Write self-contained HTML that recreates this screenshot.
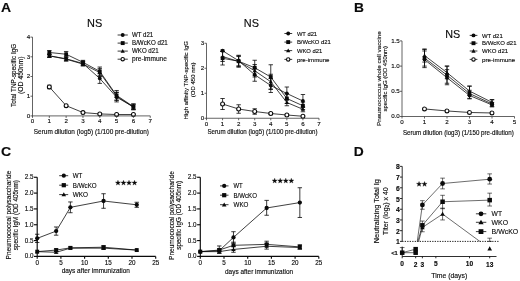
<!DOCTYPE html>
<html><head><meta charset="utf-8"><title>Figure</title>
<style>html,body{margin:0;padding:0;background:#fff;}body{width:520px;height:281px;overflow:hidden;font-family:"Liberation Sans",sans-serif;}svg{display:block;font-family:"Liberation Sans",sans-serif;}</style>
</head><body>
<svg width="520" height="281" viewBox="0 0 520 281" fill="#0a0a0a" stroke="#0a0a0a" style="filter:blur(0.25px)">
<rect x="0" y="0" width="520" height="281" fill="#fff" stroke="none"/>
<g stroke="none">
<text x="1.00" y="11.90" font-size="12.6" text-anchor="start" stroke="#0a0a0a" stroke-width="0.13" font-weight="bold" textLength="10.10" lengthAdjust="spacingAndGlyphs">A</text>
<text x="354.00" y="11.90" font-size="12.6" text-anchor="start" stroke="#0a0a0a" stroke-width="0.13" font-weight="bold" textLength="10.00" lengthAdjust="spacingAndGlyphs">B</text>
<text x="0.90" y="156.40" font-size="12.6" text-anchor="start" stroke="#0a0a0a" stroke-width="0.13" font-weight="bold" textLength="10.20" lengthAdjust="spacingAndGlyphs">C</text>
<text x="353.70" y="156.40" font-size="12.6" text-anchor="start" stroke="#0a0a0a" stroke-width="0.13" font-weight="bold" textLength="10.00" lengthAdjust="spacingAndGlyphs">D</text>
<text x="87.00" y="27.10" font-size="10.6" text-anchor="start" stroke="#0a0a0a" stroke-width="0.13" textLength="15.20" lengthAdjust="spacingAndGlyphs">NS</text>
<text x="243.80" y="27.00" font-size="10.6" text-anchor="start" stroke="#0a0a0a" stroke-width="0.13" textLength="15.10" lengthAdjust="spacingAndGlyphs">NS</text>
<text x="445.20" y="38.20" font-size="10.6" text-anchor="start" stroke="#0a0a0a" stroke-width="0.13" textLength="15.00" lengthAdjust="spacingAndGlyphs">NS</text>
</g>
<g id="A1">
<g stroke="none">
</g>
<path d="M49.32 86.94 L66.14 105.66 L82.96 112.55 L99.78 113.93 L116.60 114.52 L133.42 114.52" fill="none" stroke-width="0.78"/>
<line x1="49.32" y1="85.17" x2="49.32" y2="88.71" stroke-width="0.8" />
<line x1="47.12" y1="85.17" x2="51.52" y2="85.17" stroke-width="0.8" />
<line x1="47.12" y1="88.71" x2="51.52" y2="88.71" stroke-width="0.8" />
<circle cx="49.32" cy="86.94" r="1.95" fill="#fff" stroke="#0a0a0a" stroke-width="1.1"/>
<circle cx="66.14" cy="105.66" r="1.95" fill="#fff" stroke="#0a0a0a" stroke-width="1.1"/>
<circle cx="82.96" cy="112.55" r="1.95" fill="#fff" stroke="#0a0a0a" stroke-width="1.1"/>
<circle cx="99.78" cy="113.93" r="1.95" fill="#fff" stroke="#0a0a0a" stroke-width="1.1"/>
<circle cx="116.60" cy="114.52" r="1.95" fill="#fff" stroke="#0a0a0a" stroke-width="1.1"/>
<circle cx="133.42" cy="114.52" r="1.95" fill="#fff" stroke="#0a0a0a" stroke-width="1.1"/>
<path d="M49.32 55.82 L66.14 58.77 L82.96 63.50 L99.78 78.47 L116.60 97.19 L133.42 106.84" fill="none" stroke-width="0.78"/>
<line x1="49.32" y1="54.24" x2="49.32" y2="57.39" stroke-width="0.8" />
<line x1="47.12" y1="54.24" x2="51.52" y2="54.24" stroke-width="0.8" />
<line x1="47.12" y1="57.39" x2="51.52" y2="57.39" stroke-width="0.8" />
<line x1="66.14" y1="56.80" x2="66.14" y2="60.74" stroke-width="0.8" />
<line x1="63.94" y1="56.80" x2="68.34" y2="56.80" stroke-width="0.8" />
<line x1="63.94" y1="60.74" x2="68.34" y2="60.74" stroke-width="0.8" />
<line x1="82.96" y1="61.53" x2="82.96" y2="65.47" stroke-width="0.8" />
<line x1="80.76" y1="61.53" x2="85.16" y2="61.53" stroke-width="0.8" />
<line x1="80.76" y1="65.47" x2="85.16" y2="65.47" stroke-width="0.8" />
<line x1="99.78" y1="73.55" x2="99.78" y2="83.40" stroke-width="0.8" />
<line x1="97.58" y1="73.55" x2="101.98" y2="73.55" stroke-width="0.8" />
<line x1="97.58" y1="83.40" x2="101.98" y2="83.40" stroke-width="0.8" />
<line x1="116.60" y1="92.46" x2="116.60" y2="101.91" stroke-width="0.8" />
<line x1="114.40" y1="92.46" x2="118.80" y2="92.46" stroke-width="0.8" />
<line x1="114.40" y1="101.91" x2="118.80" y2="101.91" stroke-width="0.8" />
<line x1="133.42" y1="103.88" x2="133.42" y2="109.79" stroke-width="0.8" />
<line x1="131.22" y1="103.88" x2="135.62" y2="103.88" stroke-width="0.8" />
<line x1="131.22" y1="109.79" x2="135.62" y2="109.79" stroke-width="0.8" />
<circle cx="49.32" cy="55.82" r="1.90" fill="#0a0a0a" stroke="none"/>
<circle cx="66.14" cy="58.77" r="1.90" fill="#0a0a0a" stroke="none"/>
<circle cx="82.96" cy="63.50" r="1.90" fill="#0a0a0a" stroke="none"/>
<circle cx="99.78" cy="78.47" r="1.90" fill="#0a0a0a" stroke="none"/>
<circle cx="116.60" cy="97.19" r="1.90" fill="#0a0a0a" stroke="none"/>
<circle cx="133.42" cy="106.84" r="1.90" fill="#0a0a0a" stroke="none"/>
<path d="M49.32 55.82 L66.14 59.16 L82.96 64.09 L99.78 72.56 L116.60 96.20 L133.42 107.23" fill="none" stroke-width="0.78"/>
<line x1="49.32" y1="54.24" x2="49.32" y2="57.39" stroke-width="0.8" />
<line x1="47.12" y1="54.24" x2="51.52" y2="54.24" stroke-width="0.8" />
<line x1="47.12" y1="57.39" x2="51.52" y2="57.39" stroke-width="0.8" />
<line x1="66.14" y1="57.19" x2="66.14" y2="61.13" stroke-width="0.8" />
<line x1="63.94" y1="57.19" x2="68.34" y2="57.19" stroke-width="0.8" />
<line x1="63.94" y1="61.13" x2="68.34" y2="61.13" stroke-width="0.8" />
<line x1="82.96" y1="62.12" x2="82.96" y2="66.06" stroke-width="0.8" />
<line x1="80.76" y1="62.12" x2="85.16" y2="62.12" stroke-width="0.8" />
<line x1="80.76" y1="66.06" x2="85.16" y2="66.06" stroke-width="0.8" />
<line x1="99.78" y1="68.62" x2="99.78" y2="76.50" stroke-width="0.8" />
<line x1="97.58" y1="68.62" x2="101.98" y2="68.62" stroke-width="0.8" />
<line x1="97.58" y1="76.50" x2="101.98" y2="76.50" stroke-width="0.8" />
<line x1="116.60" y1="92.26" x2="116.60" y2="100.14" stroke-width="0.8" />
<line x1="114.40" y1="92.26" x2="118.80" y2="92.26" stroke-width="0.8" />
<line x1="114.40" y1="100.14" x2="118.80" y2="100.14" stroke-width="0.8" />
<line x1="133.42" y1="104.87" x2="133.42" y2="109.60" stroke-width="0.8" />
<line x1="131.22" y1="104.87" x2="135.62" y2="104.87" stroke-width="0.8" />
<line x1="131.22" y1="109.60" x2="135.62" y2="109.60" stroke-width="0.8" />
<path d="M49.32 53.73 L51.41 57.41 L47.23 57.41 Z" fill="#0a0a0a" stroke="none"/>
<path d="M66.14 57.07 L68.23 60.76 L64.05 60.76 Z" fill="#0a0a0a" stroke="none"/>
<path d="M82.96 62.00 L85.05 65.69 L80.87 65.69 Z" fill="#0a0a0a" stroke="none"/>
<path d="M99.78 70.47 L101.87 74.16 L97.69 74.16 Z" fill="#0a0a0a" stroke="none"/>
<path d="M116.60 94.11 L118.69 97.80 L114.51 97.80 Z" fill="#0a0a0a" stroke="none"/>
<path d="M133.42 105.14 L135.51 108.83 L131.33 108.83 Z" fill="#0a0a0a" stroke="none"/>
<path d="M49.32 52.47 L66.14 54.24 L82.96 62.32 L99.78 71.38 L116.60 95.41 L133.42 106.64" fill="none" stroke-width="0.78"/>
<line x1="49.32" y1="50.50" x2="49.32" y2="54.44" stroke-width="0.8" />
<line x1="47.12" y1="50.50" x2="51.52" y2="50.50" stroke-width="0.8" />
<line x1="47.12" y1="54.44" x2="51.52" y2="54.44" stroke-width="0.8" />
<line x1="66.14" y1="51.48" x2="66.14" y2="57.00" stroke-width="0.8" />
<line x1="63.94" y1="51.48" x2="68.34" y2="51.48" stroke-width="0.8" />
<line x1="63.94" y1="57.00" x2="68.34" y2="57.00" stroke-width="0.8" />
<line x1="82.96" y1="60.35" x2="82.96" y2="64.29" stroke-width="0.8" />
<line x1="80.76" y1="60.35" x2="85.16" y2="60.35" stroke-width="0.8" />
<line x1="80.76" y1="64.29" x2="85.16" y2="64.29" stroke-width="0.8" />
<line x1="99.78" y1="67.04" x2="99.78" y2="75.71" stroke-width="0.8" />
<line x1="97.58" y1="67.04" x2="101.98" y2="67.04" stroke-width="0.8" />
<line x1="97.58" y1="75.71" x2="101.98" y2="75.71" stroke-width="0.8" />
<line x1="116.60" y1="90.49" x2="116.60" y2="100.34" stroke-width="0.8" />
<line x1="114.40" y1="90.49" x2="118.80" y2="90.49" stroke-width="0.8" />
<line x1="114.40" y1="100.34" x2="118.80" y2="100.34" stroke-width="0.8" />
<line x1="133.42" y1="104.08" x2="133.42" y2="109.20" stroke-width="0.8" />
<line x1="131.22" y1="104.08" x2="135.62" y2="104.08" stroke-width="0.8" />
<line x1="131.22" y1="109.20" x2="135.62" y2="109.20" stroke-width="0.8" />
<rect x="47.42" y="50.57" width="3.80" height="3.80" fill="#0a0a0a" stroke="none"/>
<rect x="64.24" y="52.34" width="3.80" height="3.80" fill="#0a0a0a" stroke="none"/>
<rect x="81.06" y="60.42" width="3.80" height="3.80" fill="#0a0a0a" stroke="none"/>
<rect x="97.88" y="69.48" width="3.80" height="3.80" fill="#0a0a0a" stroke="none"/>
<rect x="114.70" y="93.51" width="3.80" height="3.80" fill="#0a0a0a" stroke="none"/>
<rect x="131.52" y="104.74" width="3.80" height="3.80" fill="#0a0a0a" stroke="none"/>
</g>
<g id="A1ax">
<line x1="32.50" y1="37.10" x2="32.50" y2="116.30" stroke-width="0.8"  stroke="#3c3c3c"/>
<line x1="32.50" y1="115.90" x2="150.24" y2="115.90" stroke-width="0.8"  stroke="#3c3c3c"/>
<line x1="32.50" y1="115.90" x2="32.50" y2="117.90" stroke-width="0.8"  stroke="#3c3c3c"/>
<text x="32.50" y="123.45" font-size="6.2" text-anchor="middle" stroke="#0a0a0a" stroke-width="0.13">0</text>
<line x1="49.32" y1="115.90" x2="49.32" y2="117.90" stroke-width="0.8"  stroke="#3c3c3c"/>
<text x="49.32" y="123.45" font-size="6.2" text-anchor="middle" stroke="#0a0a0a" stroke-width="0.13">1</text>
<line x1="66.14" y1="115.90" x2="66.14" y2="117.90" stroke-width="0.8"  stroke="#3c3c3c"/>
<text x="66.14" y="123.45" font-size="6.2" text-anchor="middle" stroke="#0a0a0a" stroke-width="0.13">2</text>
<line x1="82.96" y1="115.90" x2="82.96" y2="117.90" stroke-width="0.8"  stroke="#3c3c3c"/>
<text x="82.96" y="123.45" font-size="6.2" text-anchor="middle" stroke="#0a0a0a" stroke-width="0.13">3</text>
<line x1="99.78" y1="115.90" x2="99.78" y2="117.90" stroke-width="0.8"  stroke="#3c3c3c"/>
<text x="99.78" y="123.45" font-size="6.2" text-anchor="middle" stroke="#0a0a0a" stroke-width="0.13">4</text>
<line x1="116.60" y1="115.90" x2="116.60" y2="117.90" stroke-width="0.8"  stroke="#3c3c3c"/>
<text x="116.60" y="123.45" font-size="6.2" text-anchor="middle" stroke="#0a0a0a" stroke-width="0.13">5</text>
<line x1="133.42" y1="115.90" x2="133.42" y2="117.90" stroke-width="0.8"  stroke="#3c3c3c"/>
<text x="133.42" y="123.45" font-size="6.2" text-anchor="middle" stroke="#0a0a0a" stroke-width="0.13">6</text>
<line x1="150.24" y1="115.90" x2="150.24" y2="117.90" stroke-width="0.8"  stroke="#3c3c3c"/>
<text x="150.24" y="123.45" font-size="6.2" text-anchor="middle" stroke="#0a0a0a" stroke-width="0.13">7</text>
<line x1="30.50" y1="115.90" x2="32.50" y2="115.90" stroke-width="0.8"  stroke="#3c3c3c"/>
<text x="30.30" y="117.88" font-size="6.2" text-anchor="end" stroke="#0a0a0a" stroke-width="0.13">0</text>
<line x1="30.50" y1="96.20" x2="32.50" y2="96.20" stroke-width="0.8"  stroke="#3c3c3c"/>
<text x="30.30" y="98.18" font-size="6.2" text-anchor="end" stroke="#0a0a0a" stroke-width="0.13">1</text>
<line x1="30.50" y1="76.50" x2="32.50" y2="76.50" stroke-width="0.8"  stroke="#3c3c3c"/>
<text x="30.30" y="78.48" font-size="6.2" text-anchor="end" stroke="#0a0a0a" stroke-width="0.13">2</text>
<line x1="30.50" y1="56.80" x2="32.50" y2="56.80" stroke-width="0.8"  stroke="#3c3c3c"/>
<text x="30.30" y="58.78" font-size="6.2" text-anchor="end" stroke="#0a0a0a" stroke-width="0.13">3</text>
<line x1="30.50" y1="37.10" x2="32.50" y2="37.10" stroke-width="0.8"  stroke="#3c3c3c"/>
<text x="30.30" y="39.08" font-size="6.2" text-anchor="end" stroke="#0a0a0a" stroke-width="0.13">4</text>
</g>
<g stroke="none">
<text x="33.80" y="134.00" font-size="6.6" text-anchor="start" stroke="#0a0a0a" stroke-width="0.13" textLength="115.20" lengthAdjust="spacingAndGlyphs">Serum dilution (log5) (1/100 pre-dilution)</text>
<text x="16.40" y="107.00" font-size="6.3" text-anchor="start" stroke="#0a0a0a" stroke-width="0.13" textLength="63.20" lengthAdjust="spacingAndGlyphs" transform="rotate(-90 16.40 107.00)">Total TNP-specific IgG</text>
<text x="23.10" y="94.00" font-size="6.3" text-anchor="start" stroke="#0a0a0a" stroke-width="0.13" textLength="37.60" lengthAdjust="spacingAndGlyphs" transform="rotate(-90 23.10 94.00)">(OD 450nm)</text>
</g>
<line x1="117.60" y1="35.00" x2="127.80" y2="35.00" stroke-width="0.8" />
<circle cx="122.70" cy="35.00" r="1.95" fill="#0a0a0a" stroke="none"/>
<text x="132.00" y="37.27" font-size="6.3" text-anchor="start" stroke="#0a0a0a" stroke-width="0.13" textLength="21.20" lengthAdjust="spacingAndGlyphs">WT d21</text>
<line x1="117.60" y1="43.10" x2="127.80" y2="43.10" stroke-width="0.8" />
<rect x="120.75" y="41.15" width="3.90" height="3.90" fill="#0a0a0a" stroke="none"/>
<text x="132.00" y="45.37" font-size="6.3" text-anchor="start" stroke="#0a0a0a" stroke-width="0.13" textLength="35.80" lengthAdjust="spacingAndGlyphs">B/WcKO d21</text>
<line x1="117.60" y1="51.10" x2="127.80" y2="51.10" stroke-width="0.8" />
<path d="M122.70 48.95 L124.84 52.74 L120.56 52.74 Z" fill="#0a0a0a" stroke="none"/>
<text x="132.00" y="53.37" font-size="6.3" text-anchor="start" stroke="#0a0a0a" stroke-width="0.13" textLength="26.60" lengthAdjust="spacingAndGlyphs">WKO d21</text>
<line x1="117.60" y1="59.20" x2="127.80" y2="59.20" stroke-width="0.8" />
<circle cx="122.70" cy="59.20" r="1.70" fill="#fff" stroke="#0a0a0a" stroke-width="1.1"/>
<text x="132.00" y="61.47" font-size="6.3" text-anchor="start" stroke="#0a0a0a" stroke-width="0.13" textLength="34.90" lengthAdjust="spacingAndGlyphs">pre-immune</text>
<path d="M222.57 104.00 L238.64 109.00 L254.71 111.50 L270.78 113.50 L286.85 115.00 L302.92 116.25" fill="none" stroke-width="0.78"/>
<line x1="222.57" y1="98.50" x2="222.57" y2="109.50" stroke-width="0.8" />
<line x1="220.37" y1="98.50" x2="224.77" y2="98.50" stroke-width="0.8" />
<line x1="220.37" y1="109.50" x2="224.77" y2="109.50" stroke-width="0.8" />
<line x1="238.64" y1="104.75" x2="238.64" y2="113.25" stroke-width="0.8" />
<line x1="236.44" y1="104.75" x2="240.84" y2="104.75" stroke-width="0.8" />
<line x1="236.44" y1="113.25" x2="240.84" y2="113.25" stroke-width="0.8" />
<line x1="254.71" y1="108.75" x2="254.71" y2="114.25" stroke-width="0.8" />
<line x1="252.51" y1="108.75" x2="256.91" y2="108.75" stroke-width="0.8" />
<line x1="252.51" y1="114.25" x2="256.91" y2="114.25" stroke-width="0.8" />
<line x1="270.78" y1="112.50" x2="270.78" y2="114.50" stroke-width="0.8" />
<line x1="268.58" y1="112.50" x2="272.98" y2="112.50" stroke-width="0.8" />
<line x1="268.58" y1="114.50" x2="272.98" y2="114.50" stroke-width="0.8" />
<circle cx="222.57" cy="104.00" r="1.95" fill="#fff" stroke="#0a0a0a" stroke-width="1.1"/>
<circle cx="238.64" cy="109.00" r="1.95" fill="#fff" stroke="#0a0a0a" stroke-width="1.1"/>
<circle cx="254.71" cy="111.50" r="1.95" fill="#fff" stroke="#0a0a0a" stroke-width="1.1"/>
<circle cx="270.78" cy="113.50" r="1.95" fill="#fff" stroke="#0a0a0a" stroke-width="1.1"/>
<circle cx="286.85" cy="115.00" r="1.95" fill="#fff" stroke="#0a0a0a" stroke-width="1.1"/>
<circle cx="302.92" cy="116.25" r="1.95" fill="#fff" stroke="#0a0a0a" stroke-width="1.1"/>
<path d="M222.57 56.50 L238.64 61.50 L254.71 70.75 L270.78 81.75 L286.85 102.50 L302.92 109.25" fill="none" stroke-width="0.78"/>
<line x1="222.57" y1="51.50" x2="222.57" y2="61.50" stroke-width="0.8" />
<line x1="220.37" y1="51.50" x2="224.77" y2="51.50" stroke-width="0.8" />
<line x1="220.37" y1="61.50" x2="224.77" y2="61.50" stroke-width="0.8" />
<line x1="238.64" y1="56.50" x2="238.64" y2="66.50" stroke-width="0.8" />
<line x1="236.44" y1="56.50" x2="240.84" y2="56.50" stroke-width="0.8" />
<line x1="236.44" y1="66.50" x2="240.84" y2="66.50" stroke-width="0.8" />
<line x1="254.71" y1="64.50" x2="254.71" y2="77.00" stroke-width="0.8" />
<line x1="252.51" y1="64.50" x2="256.91" y2="64.50" stroke-width="0.8" />
<line x1="252.51" y1="77.00" x2="256.91" y2="77.00" stroke-width="0.8" />
<line x1="270.78" y1="74.25" x2="270.78" y2="89.25" stroke-width="0.8" />
<line x1="268.58" y1="74.25" x2="272.98" y2="74.25" stroke-width="0.8" />
<line x1="268.58" y1="89.25" x2="272.98" y2="89.25" stroke-width="0.8" />
<line x1="286.85" y1="99.25" x2="286.85" y2="105.75" stroke-width="0.8" />
<line x1="284.65" y1="99.25" x2="289.05" y2="99.25" stroke-width="0.8" />
<line x1="284.65" y1="105.75" x2="289.05" y2="105.75" stroke-width="0.8" />
<line x1="302.92" y1="106.75" x2="302.92" y2="111.75" stroke-width="0.8" />
<line x1="300.72" y1="106.75" x2="305.12" y2="106.75" stroke-width="0.8" />
<line x1="300.72" y1="111.75" x2="305.12" y2="111.75" stroke-width="0.8" />
<path d="M222.57 54.41 L224.66 58.10 L220.48 58.10 Z" fill="#0a0a0a" stroke="none"/>
<path d="M238.64 59.41 L240.73 63.10 L236.55 63.10 Z" fill="#0a0a0a" stroke="none"/>
<path d="M254.71 68.66 L256.80 72.35 L252.62 72.35 Z" fill="#0a0a0a" stroke="none"/>
<path d="M270.78 79.66 L272.87 83.35 L268.69 83.35 Z" fill="#0a0a0a" stroke="none"/>
<path d="M286.85 100.41 L288.94 104.10 L284.76 104.10 Z" fill="#0a0a0a" stroke="none"/>
<path d="M302.92 107.16 L305.01 110.85 L300.83 110.85 Z" fill="#0a0a0a" stroke="none"/>
<path d="M222.57 58.25 L238.64 61.25 L254.71 67.75 L270.78 77.00 L286.85 98.50 L302.92 105.75" fill="none" stroke-width="0.78"/>
<line x1="222.57" y1="51.50" x2="222.57" y2="65.00" stroke-width="0.8" />
<line x1="220.37" y1="51.50" x2="224.77" y2="51.50" stroke-width="0.8" />
<line x1="220.37" y1="65.00" x2="224.77" y2="65.00" stroke-width="0.8" />
<line x1="238.64" y1="55.25" x2="238.64" y2="67.25" stroke-width="0.8" />
<line x1="236.44" y1="55.25" x2="240.84" y2="55.25" stroke-width="0.8" />
<line x1="236.44" y1="67.25" x2="240.84" y2="67.25" stroke-width="0.8" />
<line x1="254.71" y1="60.25" x2="254.71" y2="75.25" stroke-width="0.8" />
<line x1="252.51" y1="60.25" x2="256.91" y2="60.25" stroke-width="0.8" />
<line x1="252.51" y1="75.25" x2="256.91" y2="75.25" stroke-width="0.8" />
<line x1="270.78" y1="64.75" x2="270.78" y2="89.25" stroke-width="0.8" />
<line x1="268.58" y1="64.75" x2="272.98" y2="64.75" stroke-width="0.8" />
<line x1="268.58" y1="89.25" x2="272.98" y2="89.25" stroke-width="0.8" />
<line x1="286.85" y1="93.50" x2="286.85" y2="103.50" stroke-width="0.8" />
<line x1="284.65" y1="93.50" x2="289.05" y2="93.50" stroke-width="0.8" />
<line x1="284.65" y1="103.50" x2="289.05" y2="103.50" stroke-width="0.8" />
<line x1="302.92" y1="102.00" x2="302.92" y2="109.50" stroke-width="0.8" />
<line x1="300.72" y1="102.00" x2="305.12" y2="102.00" stroke-width="0.8" />
<line x1="300.72" y1="109.50" x2="305.12" y2="109.50" stroke-width="0.8" />
<rect x="220.67" y="56.35" width="3.80" height="3.80" fill="#0a0a0a" stroke="none"/>
<rect x="236.74" y="59.35" width="3.80" height="3.80" fill="#0a0a0a" stroke="none"/>
<rect x="252.81" y="65.85" width="3.80" height="3.80" fill="#0a0a0a" stroke="none"/>
<rect x="268.88" y="75.10" width="3.80" height="3.80" fill="#0a0a0a" stroke="none"/>
<rect x="284.95" y="96.60" width="3.80" height="3.80" fill="#0a0a0a" stroke="none"/>
<rect x="301.02" y="103.85" width="3.80" height="3.80" fill="#0a0a0a" stroke="none"/>
<path d="M222.57 50.75 L238.64 60.75 L254.71 74.75 L270.78 85.50 L286.85 93.50 L302.92 101.00" fill="none" stroke-width="0.78"/>
<line x1="222.57" y1="50.00" x2="222.57" y2="51.50" stroke-width="0.8" />
<line x1="220.37" y1="50.00" x2="224.77" y2="50.00" stroke-width="0.8" />
<line x1="220.37" y1="51.50" x2="224.77" y2="51.50" stroke-width="0.8" />
<line x1="238.64" y1="55.75" x2="238.64" y2="65.75" stroke-width="0.8" />
<line x1="236.44" y1="55.75" x2="240.84" y2="55.75" stroke-width="0.8" />
<line x1="236.44" y1="65.75" x2="240.84" y2="65.75" stroke-width="0.8" />
<line x1="254.71" y1="68.25" x2="254.71" y2="81.25" stroke-width="0.8" />
<line x1="252.51" y1="68.25" x2="256.91" y2="68.25" stroke-width="0.8" />
<line x1="252.51" y1="81.25" x2="256.91" y2="81.25" stroke-width="0.8" />
<line x1="270.78" y1="78.50" x2="270.78" y2="92.50" stroke-width="0.8" />
<line x1="268.58" y1="78.50" x2="272.98" y2="78.50" stroke-width="0.8" />
<line x1="268.58" y1="92.50" x2="272.98" y2="92.50" stroke-width="0.8" />
<line x1="286.85" y1="87.00" x2="286.85" y2="100.00" stroke-width="0.8" />
<line x1="284.65" y1="87.00" x2="289.05" y2="87.00" stroke-width="0.8" />
<line x1="284.65" y1="100.00" x2="289.05" y2="100.00" stroke-width="0.8" />
<line x1="302.92" y1="94.50" x2="302.92" y2="107.50" stroke-width="0.8" />
<line x1="300.72" y1="94.50" x2="305.12" y2="94.50" stroke-width="0.8" />
<line x1="300.72" y1="107.50" x2="305.12" y2="107.50" stroke-width="0.8" />
<circle cx="222.57" cy="50.75" r="1.90" fill="#0a0a0a" stroke="none"/>
<circle cx="238.64" cy="60.75" r="1.90" fill="#0a0a0a" stroke="none"/>
<circle cx="254.71" cy="74.75" r="1.90" fill="#0a0a0a" stroke="none"/>
<circle cx="270.78" cy="85.50" r="1.90" fill="#0a0a0a" stroke="none"/>
<circle cx="286.85" cy="93.50" r="1.90" fill="#0a0a0a" stroke="none"/>
<circle cx="302.92" cy="101.00" r="1.90" fill="#0a0a0a" stroke="none"/>
<line x1="206.50" y1="43.25" x2="206.50" y2="118.65" stroke-width="0.8"  stroke="#3c3c3c"/>
<line x1="206.50" y1="118.25" x2="318.99" y2="118.25" stroke-width="0.8"  stroke="#3c3c3c"/>
<line x1="206.50" y1="118.25" x2="206.50" y2="120.25" stroke-width="0.8"  stroke="#3c3c3c"/>
<text x="206.50" y="125.80" font-size="6.2" text-anchor="middle" stroke="#0a0a0a" stroke-width="0.13">0</text>
<line x1="222.57" y1="118.25" x2="222.57" y2="120.25" stroke-width="0.8"  stroke="#3c3c3c"/>
<text x="222.57" y="125.80" font-size="6.2" text-anchor="middle" stroke="#0a0a0a" stroke-width="0.13">1</text>
<line x1="238.64" y1="118.25" x2="238.64" y2="120.25" stroke-width="0.8"  stroke="#3c3c3c"/>
<text x="238.64" y="125.80" font-size="6.2" text-anchor="middle" stroke="#0a0a0a" stroke-width="0.13">2</text>
<line x1="254.71" y1="118.25" x2="254.71" y2="120.25" stroke-width="0.8"  stroke="#3c3c3c"/>
<text x="254.71" y="125.80" font-size="6.2" text-anchor="middle" stroke="#0a0a0a" stroke-width="0.13">3</text>
<line x1="270.78" y1="118.25" x2="270.78" y2="120.25" stroke-width="0.8"  stroke="#3c3c3c"/>
<text x="270.78" y="125.80" font-size="6.2" text-anchor="middle" stroke="#0a0a0a" stroke-width="0.13">4</text>
<line x1="286.85" y1="118.25" x2="286.85" y2="120.25" stroke-width="0.8"  stroke="#3c3c3c"/>
<text x="286.85" y="125.80" font-size="6.2" text-anchor="middle" stroke="#0a0a0a" stroke-width="0.13">5</text>
<line x1="302.92" y1="118.25" x2="302.92" y2="120.25" stroke-width="0.8"  stroke="#3c3c3c"/>
<text x="302.92" y="125.80" font-size="6.2" text-anchor="middle" stroke="#0a0a0a" stroke-width="0.13">6</text>
<line x1="318.99" y1="118.25" x2="318.99" y2="120.25" stroke-width="0.8"  stroke="#3c3c3c"/>
<text x="318.99" y="125.80" font-size="6.2" text-anchor="middle" stroke="#0a0a0a" stroke-width="0.13">7</text>
<line x1="204.50" y1="118.25" x2="206.50" y2="118.25" stroke-width="0.8"  stroke="#3c3c3c"/>
<text x="204.30" y="120.23" font-size="6.2" text-anchor="end" stroke="#0a0a0a" stroke-width="0.13">0</text>
<line x1="204.50" y1="93.25" x2="206.50" y2="93.25" stroke-width="0.8"  stroke="#3c3c3c"/>
<text x="204.30" y="95.23" font-size="6.2" text-anchor="end" stroke="#0a0a0a" stroke-width="0.13">1</text>
<line x1="204.50" y1="68.25" x2="206.50" y2="68.25" stroke-width="0.8"  stroke="#3c3c3c"/>
<text x="204.30" y="70.23" font-size="6.2" text-anchor="end" stroke="#0a0a0a" stroke-width="0.13">2</text>
<line x1="204.50" y1="43.25" x2="206.50" y2="43.25" stroke-width="0.8"  stroke="#3c3c3c"/>
<text x="204.30" y="45.23" font-size="6.2" text-anchor="end" stroke="#0a0a0a" stroke-width="0.13">3</text>
<g stroke="none">
<text x="207.40" y="133.80" font-size="6.5" text-anchor="start" stroke="#0a0a0a" stroke-width="0.13" textLength="110.20" lengthAdjust="spacingAndGlyphs">Serum dilution (log5) (1/100 pre-dilution)</text>
<text x="187.80" y="119.40" font-size="6.1" text-anchor="start" stroke="#0a0a0a" stroke-width="0.13" textLength="78.40" lengthAdjust="spacingAndGlyphs" transform="rotate(-90 187.80 119.40)">High affinity TNP-specific IgG</text>
<text x="195.40" y="97.20" font-size="6.1" text-anchor="start" stroke="#0a0a0a" stroke-width="0.13" textLength="34.70" lengthAdjust="spacingAndGlyphs" transform="rotate(-90 195.40 97.20)">(OD 450 nm)</text>
</g>
<line x1="284.40" y1="33.50" x2="292.20" y2="33.50" stroke-width="0.8" />
<circle cx="288.20" cy="33.50" r="1.95" fill="#0a0a0a" stroke="none"/>
<text x="296.90" y="35.66" font-size="6.0" text-anchor="start" stroke="#0a0a0a" stroke-width="0.13" textLength="20.20" lengthAdjust="spacingAndGlyphs">WT d21</text>
<line x1="284.40" y1="42.10" x2="292.20" y2="42.10" stroke-width="0.8" />
<rect x="286.25" y="40.15" width="3.90" height="3.90" fill="#0a0a0a" stroke="none"/>
<text x="296.90" y="44.26" font-size="6.0" text-anchor="start" stroke="#0a0a0a" stroke-width="0.13" textLength="34.00" lengthAdjust="spacingAndGlyphs">B/WcKO d21</text>
<line x1="284.40" y1="50.60" x2="292.20" y2="50.60" stroke-width="0.8" />
<path d="M288.20 48.45 L290.34 52.24 L286.06 52.24 Z" fill="#0a0a0a" stroke="none"/>
<text x="296.90" y="52.76" font-size="6.0" text-anchor="start" stroke="#0a0a0a" stroke-width="0.13" textLength="25.50" lengthAdjust="spacingAndGlyphs">WKO d21</text>
<line x1="284.40" y1="59.40" x2="292.20" y2="59.40" stroke-width="0.8" />
<circle cx="288.20" cy="59.40" r="1.70" fill="#fff" stroke="#0a0a0a" stroke-width="1.1"/>
<text x="296.90" y="61.56" font-size="6.0" text-anchor="start" stroke="#0a0a0a" stroke-width="0.13" textLength="32.60" lengthAdjust="spacingAndGlyphs">pre-immune</text>
<path d="M424.50 108.94 L447.00 110.96 L469.50 112.47 L492.00 112.97" fill="none" stroke-width="0.78"/>
<circle cx="424.50" cy="108.94" r="1.95" fill="#fff" stroke="#0a0a0a" stroke-width="1.1"/>
<circle cx="447.00" cy="110.96" r="1.95" fill="#fff" stroke="#0a0a0a" stroke-width="1.1"/>
<circle cx="469.50" cy="112.47" r="1.95" fill="#fff" stroke="#0a0a0a" stroke-width="1.1"/>
<circle cx="492.00" cy="112.97" r="1.95" fill="#fff" stroke="#0a0a0a" stroke-width="1.1"/>
<path d="M424.50 59.55 L447.00 77.69 L469.50 95.48 L492.00 104.91" fill="none" stroke-width="0.78"/>
<line x1="424.50" y1="50.98" x2="424.50" y2="67.61" stroke-width="0.8" />
<line x1="422.30" y1="50.98" x2="426.70" y2="50.98" stroke-width="0.8" />
<line x1="422.30" y1="67.61" x2="426.70" y2="67.61" stroke-width="0.8" />
<line x1="447.00" y1="69.63" x2="447.00" y2="84.75" stroke-width="0.8" />
<line x1="444.80" y1="69.63" x2="449.20" y2="69.63" stroke-width="0.8" />
<line x1="444.80" y1="84.75" x2="449.20" y2="84.75" stroke-width="0.8" />
<line x1="469.50" y1="90.29" x2="469.50" y2="98.86" stroke-width="0.8" />
<line x1="467.30" y1="90.29" x2="471.70" y2="90.29" stroke-width="0.8" />
<line x1="467.30" y1="98.86" x2="471.70" y2="98.86" stroke-width="0.8" />
<line x1="492.00" y1="102.39" x2="492.00" y2="106.92" stroke-width="0.8" />
<line x1="489.80" y1="102.39" x2="494.20" y2="102.39" stroke-width="0.8" />
<line x1="489.80" y1="106.92" x2="494.20" y2="106.92" stroke-width="0.8" />
<circle cx="424.50" cy="59.55" r="1.85" fill="#0a0a0a" stroke="none"/>
<circle cx="447.00" cy="77.69" r="1.85" fill="#0a0a0a" stroke="none"/>
<circle cx="469.50" cy="95.48" r="1.85" fill="#0a0a0a" stroke="none"/>
<circle cx="492.00" cy="104.91" r="1.85" fill="#0a0a0a" stroke="none"/>
<path d="M424.50 58.04 L447.00 75.17 L469.50 93.52 L492.00 103.90" fill="none" stroke-width="0.78"/>
<line x1="424.50" y1="49.47" x2="424.50" y2="66.10" stroke-width="0.8" />
<line x1="422.30" y1="49.47" x2="426.70" y2="49.47" stroke-width="0.8" />
<line x1="422.30" y1="66.10" x2="426.70" y2="66.10" stroke-width="0.8" />
<line x1="447.00" y1="66.10" x2="447.00" y2="83.24" stroke-width="0.8" />
<line x1="444.80" y1="66.10" x2="449.20" y2="66.10" stroke-width="0.8" />
<line x1="444.80" y1="83.24" x2="449.20" y2="83.24" stroke-width="0.8" />
<line x1="469.50" y1="86.26" x2="469.50" y2="98.36" stroke-width="0.8" />
<line x1="467.30" y1="86.26" x2="471.70" y2="86.26" stroke-width="0.8" />
<line x1="467.30" y1="98.36" x2="471.70" y2="98.36" stroke-width="0.8" />
<line x1="492.00" y1="99.87" x2="492.00" y2="106.42" stroke-width="0.8" />
<line x1="489.80" y1="99.87" x2="494.20" y2="99.87" stroke-width="0.8" />
<line x1="489.80" y1="106.42" x2="494.20" y2="106.42" stroke-width="0.8" />
<rect x="422.65" y="56.19" width="3.70" height="3.70" fill="#0a0a0a" stroke="none"/>
<rect x="445.15" y="73.32" width="3.70" height="3.70" fill="#0a0a0a" stroke="none"/>
<rect x="467.65" y="91.67" width="3.70" height="3.70" fill="#0a0a0a" stroke="none"/>
<rect x="490.15" y="102.05" width="3.70" height="3.70" fill="#0a0a0a" stroke="none"/>
<path d="M424.50 55.52 L447.00 72.65 L469.50 91.05 L492.00 102.39" fill="none" stroke-width="0.78"/>
<line x1="424.50" y1="48.96" x2="424.50" y2="62.07" stroke-width="0.8" />
<line x1="422.30" y1="48.96" x2="426.70" y2="48.96" stroke-width="0.8" />
<line x1="422.30" y1="62.07" x2="426.70" y2="62.07" stroke-width="0.8" />
<line x1="447.00" y1="66.10" x2="447.00" y2="78.70" stroke-width="0.8" />
<line x1="444.80" y1="66.10" x2="449.20" y2="66.10" stroke-width="0.8" />
<line x1="444.80" y1="78.70" x2="449.20" y2="78.70" stroke-width="0.8" />
<line x1="469.50" y1="86.01" x2="469.50" y2="95.33" stroke-width="0.8" />
<line x1="467.30" y1="86.01" x2="471.70" y2="86.01" stroke-width="0.8" />
<line x1="467.30" y1="95.33" x2="471.70" y2="95.33" stroke-width="0.8" />
<line x1="492.00" y1="99.52" x2="492.00" y2="104.40" stroke-width="0.8" />
<line x1="489.80" y1="99.52" x2="494.20" y2="99.52" stroke-width="0.8" />
<line x1="489.80" y1="104.40" x2="494.20" y2="104.40" stroke-width="0.8" />
<path d="M424.50 53.48 L426.54 57.07 L422.46 57.07 Z" fill="#0a0a0a" stroke="none"/>
<path d="M447.00 70.62 L449.04 74.21 L444.96 74.21 Z" fill="#0a0a0a" stroke="none"/>
<path d="M469.50 89.01 L471.54 92.60 L467.46 92.60 Z" fill="#0a0a0a" stroke="none"/>
<path d="M492.00 100.35 L494.04 103.94 L489.96 103.94 Z" fill="#0a0a0a" stroke="none"/>
<line x1="402.00" y1="40.90" x2="402.00" y2="116.90" stroke-width="0.8"  stroke="#3c3c3c"/>
<line x1="402.00" y1="116.50" x2="514.50" y2="116.50" stroke-width="0.8"  stroke="#3c3c3c"/>
<line x1="402.00" y1="116.50" x2="402.00" y2="118.50" stroke-width="0.8"  stroke="#3c3c3c"/>
<text x="402.00" y="124.05" font-size="6.2" text-anchor="middle" stroke="#0a0a0a" stroke-width="0.13">0</text>
<line x1="424.50" y1="116.50" x2="424.50" y2="118.50" stroke-width="0.8"  stroke="#3c3c3c"/>
<text x="424.50" y="124.05" font-size="6.2" text-anchor="middle" stroke="#0a0a0a" stroke-width="0.13">1</text>
<line x1="447.00" y1="116.50" x2="447.00" y2="118.50" stroke-width="0.8"  stroke="#3c3c3c"/>
<text x="447.00" y="124.05" font-size="6.2" text-anchor="middle" stroke="#0a0a0a" stroke-width="0.13">2</text>
<line x1="469.50" y1="116.50" x2="469.50" y2="118.50" stroke-width="0.8"  stroke="#3c3c3c"/>
<text x="469.50" y="124.05" font-size="6.2" text-anchor="middle" stroke="#0a0a0a" stroke-width="0.13">3</text>
<line x1="492.00" y1="116.50" x2="492.00" y2="118.50" stroke-width="0.8"  stroke="#3c3c3c"/>
<text x="492.00" y="124.05" font-size="6.2" text-anchor="middle" stroke="#0a0a0a" stroke-width="0.13">4</text>
<line x1="514.50" y1="116.50" x2="514.50" y2="118.50" stroke-width="0.8"  stroke="#3c3c3c"/>
<text x="514.50" y="124.05" font-size="6.2" text-anchor="middle" stroke="#0a0a0a" stroke-width="0.13">5</text>
<line x1="400.00" y1="116.50" x2="402.00" y2="116.50" stroke-width="0.8"  stroke="#3c3c3c"/>
<text x="399.80" y="118.48" font-size="6.2" text-anchor="end" stroke="#0a0a0a" stroke-width="0.13">0.0</text>
<line x1="400.00" y1="91.30" x2="402.00" y2="91.30" stroke-width="0.8"  stroke="#3c3c3c"/>
<text x="399.80" y="93.28" font-size="6.2" text-anchor="end" stroke="#0a0a0a" stroke-width="0.13">0.5</text>
<line x1="400.00" y1="66.10" x2="402.00" y2="66.10" stroke-width="0.8"  stroke="#3c3c3c"/>
<text x="399.80" y="68.08" font-size="6.2" text-anchor="end" stroke="#0a0a0a" stroke-width="0.13">1.0</text>
<line x1="400.00" y1="40.90" x2="402.00" y2="40.90" stroke-width="0.8"  stroke="#3c3c3c"/>
<text x="399.80" y="42.88" font-size="6.2" text-anchor="end" stroke="#0a0a0a" stroke-width="0.13">1.5</text>
<g stroke="none">
<text x="402.90" y="134.80" font-size="6.5" text-anchor="start" stroke="#0a0a0a" stroke-width="0.13" textLength="110.90" lengthAdjust="spacingAndGlyphs">Serum dilution (log3) (1/150 pre-dilution)</text>
<text x="381.30" y="126.00" font-size="6.2" text-anchor="start" stroke="#0a0a0a" stroke-width="0.13" textLength="94.80" lengthAdjust="spacingAndGlyphs" transform="rotate(-90 381.30 126.00)">Pneumococcus whole cell vaccine</text>
<text x="387.30" y="111.40" font-size="6.2" text-anchor="start" stroke="#0a0a0a" stroke-width="0.13" textLength="65.40" lengthAdjust="spacingAndGlyphs" transform="rotate(-90 387.30 111.40)">specific IgG (OD 450nm)</text>
</g>
<line x1="469.70" y1="35.40" x2="477.40" y2="35.40" stroke-width="0.8" />
<circle cx="473.50" cy="35.40" r="1.95" fill="#0a0a0a" stroke="none"/>
<text x="482.00" y="37.60" font-size="6.1" text-anchor="start" stroke="#0a0a0a" stroke-width="0.13" textLength="20.70" lengthAdjust="spacingAndGlyphs">WT d21</text>
<line x1="469.70" y1="43.20" x2="477.40" y2="43.20" stroke-width="0.8" />
<rect x="471.55" y="41.25" width="3.90" height="3.90" fill="#0a0a0a" stroke="none"/>
<text x="482.00" y="45.40" font-size="6.1" text-anchor="start" stroke="#0a0a0a" stroke-width="0.13" textLength="34.50" lengthAdjust="spacingAndGlyphs">B/WcKO d21</text>
<line x1="469.70" y1="51.00" x2="477.40" y2="51.00" stroke-width="0.8" />
<path d="M473.50 48.85 L475.64 52.64 L471.36 52.64 Z" fill="#0a0a0a" stroke="none"/>
<text x="482.00" y="53.20" font-size="6.1" text-anchor="start" stroke="#0a0a0a" stroke-width="0.13" textLength="26.10" lengthAdjust="spacingAndGlyphs">WKO d21</text>
<line x1="469.70" y1="59.40" x2="477.40" y2="59.40" stroke-width="0.8" />
<circle cx="473.50" cy="59.40" r="1.70" fill="#fff" stroke="#0a0a0a" stroke-width="1.1"/>
<text x="482.00" y="61.60" font-size="6.1" text-anchor="start" stroke="#0a0a0a" stroke-width="0.13" textLength="33.20" lengthAdjust="spacingAndGlyphs">pre-immune</text>
<path d="M37.20 238.36 L56.16 231.08 L70.38 207.34 L103.56 201.01 L136.74 204.81" fill="none" stroke-width="0.78"/>
<line x1="37.20" y1="234.24" x2="37.20" y2="242.47" stroke-width="0.8" />
<line x1="35.00" y1="234.24" x2="39.40" y2="234.24" stroke-width="0.8" />
<line x1="35.00" y1="242.47" x2="39.40" y2="242.47" stroke-width="0.8" />
<line x1="56.16" y1="226.97" x2="56.16" y2="235.19" stroke-width="0.8" />
<line x1="53.96" y1="226.97" x2="58.36" y2="226.97" stroke-width="0.8" />
<line x1="53.96" y1="235.19" x2="58.36" y2="235.19" stroke-width="0.8" />
<line x1="70.38" y1="201.96" x2="70.38" y2="212.72" stroke-width="0.8" />
<line x1="68.18" y1="201.96" x2="72.58" y2="201.96" stroke-width="0.8" />
<line x1="68.18" y1="212.72" x2="72.58" y2="212.72" stroke-width="0.8" />
<line x1="103.56" y1="193.73" x2="103.56" y2="208.29" stroke-width="0.8" />
<line x1="101.36" y1="193.73" x2="105.76" y2="193.73" stroke-width="0.8" />
<line x1="101.36" y1="208.29" x2="105.76" y2="208.29" stroke-width="0.8" />
<line x1="136.74" y1="202.28" x2="136.74" y2="207.34" stroke-width="0.8" />
<line x1="134.54" y1="202.28" x2="138.94" y2="202.28" stroke-width="0.8" />
<line x1="134.54" y1="207.34" x2="138.94" y2="207.34" stroke-width="0.8" />
<circle cx="37.20" cy="238.36" r="2.15" fill="#0a0a0a" stroke="none"/>
<circle cx="56.16" cy="231.08" r="2.15" fill="#0a0a0a" stroke="none"/>
<circle cx="70.38" cy="207.34" r="2.15" fill="#0a0a0a" stroke="none"/>
<circle cx="103.56" cy="201.01" r="2.15" fill="#0a0a0a" stroke="none"/>
<circle cx="136.74" cy="204.81" r="2.15" fill="#0a0a0a" stroke="none"/>
<path d="M37.20 251.65 L56.16 250.07 L70.38 247.85 L103.56 247.22 L136.74 250.07" fill="none" stroke-width="0.78"/>
<line x1="56.16" y1="248.80" x2="56.16" y2="251.34" stroke-width="0.8" />
<line x1="53.96" y1="248.80" x2="58.36" y2="248.80" stroke-width="0.8" />
<line x1="53.96" y1="251.34" x2="58.36" y2="251.34" stroke-width="0.8" />
<line x1="70.38" y1="246.90" x2="70.38" y2="248.80" stroke-width="0.8" />
<line x1="68.18" y1="246.90" x2="72.58" y2="246.90" stroke-width="0.8" />
<line x1="68.18" y1="248.80" x2="72.58" y2="248.80" stroke-width="0.8" />
<line x1="103.56" y1="245.64" x2="103.56" y2="248.80" stroke-width="0.8" />
<line x1="101.36" y1="245.64" x2="105.76" y2="245.64" stroke-width="0.8" />
<line x1="101.36" y1="248.80" x2="105.76" y2="248.80" stroke-width="0.8" />
<rect x="35.25" y="249.70" width="3.90" height="3.90" fill="#0a0a0a" stroke="none"/>
<rect x="54.21" y="248.12" width="3.90" height="3.90" fill="#0a0a0a" stroke="none"/>
<rect x="68.43" y="245.90" width="3.90" height="3.90" fill="#0a0a0a" stroke="none"/>
<rect x="101.61" y="245.27" width="3.90" height="3.90" fill="#0a0a0a" stroke="none"/>
<rect x="134.79" y="248.12" width="3.90" height="3.90" fill="#0a0a0a" stroke="none"/>
<path d="M37.20 251.65 L56.16 252.29 L70.38 248.17 L103.56 248.17 L136.74 250.07" fill="none" stroke-width="0.78"/>
<line x1="56.16" y1="251.34" x2="56.16" y2="253.23" stroke-width="0.8" />
<line x1="53.96" y1="251.34" x2="58.36" y2="251.34" stroke-width="0.8" />
<line x1="53.96" y1="253.23" x2="58.36" y2="253.23" stroke-width="0.8" />
<line x1="103.56" y1="246.90" x2="103.56" y2="249.44" stroke-width="0.8" />
<line x1="101.36" y1="246.90" x2="105.76" y2="246.90" stroke-width="0.8" />
<line x1="101.36" y1="249.44" x2="105.76" y2="249.44" stroke-width="0.8" />
<path d="M37.20 249.67 L39.18 253.16 L35.22 253.16 Z" fill="#0a0a0a" stroke="none"/>
<path d="M56.16 250.31 L58.14 253.80 L54.18 253.80 Z" fill="#0a0a0a" stroke="none"/>
<path d="M70.38 246.19 L72.36 249.68 L68.40 249.68 Z" fill="#0a0a0a" stroke="none"/>
<path d="M103.56 246.19 L105.54 249.68 L101.58 249.68 Z" fill="#0a0a0a" stroke="none"/>
<path d="M136.74 248.09 L138.72 251.58 L134.76 251.58 Z" fill="#0a0a0a" stroke="none"/>
<line x1="37.20" y1="177.27" x2="37.20" y2="256.97" stroke-width="1.15"  stroke="#0a0a0a"/>
<line x1="37.20" y1="256.40" x2="155.70" y2="256.40" stroke-width="1.15"  stroke="#0a0a0a"/>
<line x1="37.20" y1="256.40" x2="37.20" y2="258.80" stroke-width="1.15"  stroke="#0a0a0a"/>
<text x="37.20" y="265.00" font-size="6.3" text-anchor="middle" stroke="#0a0a0a" stroke-width="0.13">0</text>
<line x1="60.90" y1="256.40" x2="60.90" y2="258.80" stroke-width="1.15"  stroke="#0a0a0a"/>
<text x="60.90" y="265.00" font-size="6.3" text-anchor="middle" stroke="#0a0a0a" stroke-width="0.13">5</text>
<line x1="84.60" y1="256.40" x2="84.60" y2="258.80" stroke-width="1.15"  stroke="#0a0a0a"/>
<text x="84.60" y="265.00" font-size="6.3" text-anchor="middle" stroke="#0a0a0a" stroke-width="0.13">10</text>
<line x1="108.30" y1="256.40" x2="108.30" y2="258.80" stroke-width="1.15"  stroke="#0a0a0a"/>
<text x="108.30" y="265.00" font-size="6.3" text-anchor="middle" stroke="#0a0a0a" stroke-width="0.13">15</text>
<line x1="132.00" y1="256.40" x2="132.00" y2="258.80" stroke-width="1.15"  stroke="#0a0a0a"/>
<text x="132.00" y="265.00" font-size="6.3" text-anchor="middle" stroke="#0a0a0a" stroke-width="0.13">20</text>
<line x1="155.70" y1="256.40" x2="155.70" y2="258.80" stroke-width="1.15"  stroke="#0a0a0a"/>
<text x="155.70" y="265.00" font-size="6.3" text-anchor="middle" stroke="#0a0a0a" stroke-width="0.13">25</text>
<line x1="34.00" y1="256.40" x2="37.20" y2="256.40" stroke-width="1.15"  stroke="#0a0a0a"/>
<text x="33.50" y="258.42" font-size="6.3" text-anchor="end" stroke="#0a0a0a" stroke-width="0.13">0.0</text>
<line x1="34.00" y1="240.57" x2="37.20" y2="240.57" stroke-width="1.15"  stroke="#0a0a0a"/>
<text x="33.50" y="242.59" font-size="6.3" text-anchor="end" stroke="#0a0a0a" stroke-width="0.13">0.5</text>
<line x1="34.00" y1="224.75" x2="37.20" y2="224.75" stroke-width="1.15"  stroke="#0a0a0a"/>
<text x="33.50" y="226.77" font-size="6.3" text-anchor="end" stroke="#0a0a0a" stroke-width="0.13">1.0</text>
<line x1="34.00" y1="208.92" x2="37.20" y2="208.92" stroke-width="1.15"  stroke="#0a0a0a"/>
<text x="33.50" y="210.94" font-size="6.3" text-anchor="end" stroke="#0a0a0a" stroke-width="0.13">1.5</text>
<line x1="34.00" y1="193.10" x2="37.20" y2="193.10" stroke-width="1.15"  stroke="#0a0a0a"/>
<text x="33.50" y="195.12" font-size="6.3" text-anchor="end" stroke="#0a0a0a" stroke-width="0.13">2.0</text>
<line x1="34.00" y1="177.27" x2="37.20" y2="177.27" stroke-width="1.15"  stroke="#0a0a0a"/>
<text x="33.50" y="179.29" font-size="6.3" text-anchor="end" stroke="#0a0a0a" stroke-width="0.13">2.5</text>
<g stroke="none">
<text x="61.70" y="273.20" font-size="6.6" text-anchor="start" stroke="#0a0a0a" stroke-width="0.13" textLength="68.20" lengthAdjust="spacingAndGlyphs">days after immunization</text>
<text x="11.30" y="259.40" font-size="6.5" text-anchor="start" stroke="#0a0a0a" stroke-width="0.13" textLength="88.70" lengthAdjust="spacingAndGlyphs" transform="rotate(-90 11.30 259.40)">Pneumococcal polysaccharide</text>
<text x="17.60" y="250.20" font-size="6.4" text-anchor="start" stroke="#0a0a0a" stroke-width="0.13" textLength="70.10" lengthAdjust="spacingAndGlyphs" transform="rotate(-90 17.60 250.20)">specific IgM (OD 405nm)</text>
<polygon points="117.96,180.20 118.61,182.01 120.53,182.07 119.01,183.24 119.55,185.08 117.96,184.00 116.38,185.08 116.92,183.24 115.39,182.07 117.32,182.01" fill="#0a0a0a" stroke="#0a0a0a" stroke-width="0.3"/>
<polygon points="123.49,180.20 124.13,182.01 126.06,182.07 124.53,183.24 125.07,185.08 123.49,184.00 121.90,185.08 122.44,183.24 120.92,182.07 122.84,182.01" fill="#0a0a0a" stroke="#0a0a0a" stroke-width="0.3"/>
<polygon points="129.01,180.20 129.66,182.01 131.58,182.07 130.06,183.24 130.60,185.08 129.01,184.00 127.43,185.08 127.97,183.24 126.44,182.07 128.37,182.01" fill="#0a0a0a" stroke="#0a0a0a" stroke-width="0.3"/>
<polygon points="134.54,180.20 135.18,182.01 137.11,182.07 135.58,183.24 136.12,185.08 134.54,184.00 132.95,185.08 133.49,183.24 131.97,182.07 133.89,182.01" fill="#0a0a0a" stroke="#0a0a0a" stroke-width="0.3"/>
</g>
<line x1="59.20" y1="175.70" x2="68.20" y2="175.70" stroke-width="0.8" />
<circle cx="63.80" cy="175.70" r="2.10" fill="#0a0a0a" stroke="none"/>
<text x="72.80" y="178.18" font-size="6.9" text-anchor="start" stroke="#0a0a0a" stroke-width="0.13" textLength="9.60" lengthAdjust="spacingAndGlyphs">WT</text>
<line x1="59.20" y1="185.20" x2="68.20" y2="185.20" stroke-width="0.8" />
<rect x="61.70" y="183.10" width="4.20" height="4.20" fill="#0a0a0a" stroke="none"/>
<text x="72.80" y="187.68" font-size="6.9" text-anchor="start" stroke="#0a0a0a" stroke-width="0.13" textLength="23.90" lengthAdjust="spacingAndGlyphs">B/WcKO</text>
<line x1="59.20" y1="194.60" x2="68.20" y2="194.60" stroke-width="0.8" />
<path d="M63.80 192.29 L66.11 196.36 L61.49 196.36 Z" fill="#0a0a0a" stroke="none"/>
<text x="72.80" y="197.08" font-size="6.9" text-anchor="start" stroke="#0a0a0a" stroke-width="0.13" textLength="15.30" lengthAdjust="spacingAndGlyphs">WKO</text>
<path d="M200.30 251.65 L219.26 250.70 L233.48 237.41 L266.66 207.98 L299.84 202.59" fill="none" stroke-width="0.78"/>
<line x1="219.26" y1="245.96" x2="219.26" y2="253.23" stroke-width="0.8" />
<line x1="217.06" y1="245.96" x2="221.46" y2="245.96" stroke-width="0.8" />
<line x1="217.06" y1="253.23" x2="221.46" y2="253.23" stroke-width="0.8" />
<line x1="233.48" y1="231.71" x2="233.48" y2="243.11" stroke-width="0.8" />
<line x1="231.28" y1="231.71" x2="235.68" y2="231.71" stroke-width="0.8" />
<line x1="231.28" y1="243.11" x2="235.68" y2="243.11" stroke-width="0.8" />
<line x1="266.66" y1="200.38" x2="266.66" y2="215.25" stroke-width="0.8" />
<line x1="264.46" y1="200.38" x2="268.86" y2="200.38" stroke-width="0.8" />
<line x1="264.46" y1="215.25" x2="268.86" y2="215.25" stroke-width="0.8" />
<line x1="299.84" y1="187.72" x2="299.84" y2="217.47" stroke-width="0.8" />
<line x1="297.64" y1="187.72" x2="302.04" y2="187.72" stroke-width="0.8" />
<line x1="297.64" y1="217.47" x2="302.04" y2="217.47" stroke-width="0.8" />
<circle cx="200.30" cy="251.65" r="2.15" fill="#0a0a0a" stroke="none"/>
<circle cx="219.26" cy="250.70" r="2.15" fill="#0a0a0a" stroke="none"/>
<circle cx="233.48" cy="237.41" r="2.15" fill="#0a0a0a" stroke="none"/>
<circle cx="266.66" cy="207.98" r="2.15" fill="#0a0a0a" stroke="none"/>
<circle cx="299.84" cy="202.59" r="2.15" fill="#0a0a0a" stroke="none"/>
<path d="M200.30 251.65 L219.26 250.07 L233.48 245.32 L266.66 244.37 L299.84 246.90" fill="none" stroke-width="0.78"/>
<line x1="219.26" y1="248.49" x2="219.26" y2="251.65" stroke-width="0.8" />
<line x1="217.06" y1="248.49" x2="221.46" y2="248.49" stroke-width="0.8" />
<line x1="217.06" y1="251.65" x2="221.46" y2="251.65" stroke-width="0.8" />
<line x1="233.48" y1="242.16" x2="233.48" y2="250.07" stroke-width="0.8" />
<line x1="231.28" y1="242.16" x2="235.68" y2="242.16" stroke-width="0.8" />
<line x1="231.28" y1="250.07" x2="235.68" y2="250.07" stroke-width="0.8" />
<line x1="266.66" y1="241.21" x2="266.66" y2="246.90" stroke-width="0.8" />
<line x1="264.46" y1="241.21" x2="268.86" y2="241.21" stroke-width="0.8" />
<line x1="264.46" y1="246.90" x2="268.86" y2="246.90" stroke-width="0.8" />
<line x1="299.84" y1="244.69" x2="299.84" y2="249.12" stroke-width="0.8" />
<line x1="297.64" y1="244.69" x2="302.04" y2="244.69" stroke-width="0.8" />
<line x1="297.64" y1="249.12" x2="302.04" y2="249.12" stroke-width="0.8" />
<rect x="198.35" y="249.70" width="3.90" height="3.90" fill="#0a0a0a" stroke="none"/>
<rect x="217.31" y="248.12" width="3.90" height="3.90" fill="#0a0a0a" stroke="none"/>
<rect x="231.53" y="243.37" width="3.90" height="3.90" fill="#0a0a0a" stroke="none"/>
<rect x="264.71" y="242.42" width="3.90" height="3.90" fill="#0a0a0a" stroke="none"/>
<rect x="297.89" y="244.95" width="3.90" height="3.90" fill="#0a0a0a" stroke="none"/>
<path d="M200.30 251.65 L219.26 251.65 L233.48 249.44 L266.66 246.27 L299.84 247.54" fill="none" stroke-width="0.78"/>
<line x1="219.26" y1="250.07" x2="219.26" y2="253.23" stroke-width="0.8" />
<line x1="217.06" y1="250.07" x2="221.46" y2="250.07" stroke-width="0.8" />
<line x1="217.06" y1="253.23" x2="221.46" y2="253.23" stroke-width="0.8" />
<line x1="233.48" y1="246.59" x2="233.48" y2="252.29" stroke-width="0.8" />
<line x1="231.28" y1="246.59" x2="235.68" y2="246.59" stroke-width="0.8" />
<line x1="231.28" y1="252.29" x2="235.68" y2="252.29" stroke-width="0.8" />
<line x1="266.66" y1="243.42" x2="266.66" y2="249.12" stroke-width="0.8" />
<line x1="264.46" y1="243.42" x2="268.86" y2="243.42" stroke-width="0.8" />
<line x1="264.46" y1="249.12" x2="268.86" y2="249.12" stroke-width="0.8" />
<line x1="299.84" y1="245.96" x2="299.84" y2="249.12" stroke-width="0.8" />
<line x1="297.64" y1="245.96" x2="302.04" y2="245.96" stroke-width="0.8" />
<line x1="297.64" y1="249.12" x2="302.04" y2="249.12" stroke-width="0.8" />
<path d="M200.30 249.67 L202.28 253.16 L198.32 253.16 Z" fill="#0a0a0a" stroke="none"/>
<path d="M219.26 249.67 L221.24 253.16 L217.28 253.16 Z" fill="#0a0a0a" stroke="none"/>
<path d="M233.48 247.46 L235.46 250.95 L231.50 250.95 Z" fill="#0a0a0a" stroke="none"/>
<path d="M266.66 244.29 L268.64 247.78 L264.68 247.78 Z" fill="#0a0a0a" stroke="none"/>
<path d="M299.84 245.56 L301.82 249.05 L297.86 249.05 Z" fill="#0a0a0a" stroke="none"/>
<line x1="200.30" y1="177.27" x2="200.30" y2="256.97" stroke-width="1.15"  stroke="#0a0a0a"/>
<line x1="200.30" y1="256.40" x2="318.80" y2="256.40" stroke-width="1.15"  stroke="#0a0a0a"/>
<line x1="200.30" y1="256.40" x2="200.30" y2="258.80" stroke-width="1.15"  stroke="#0a0a0a"/>
<text x="200.30" y="265.00" font-size="6.3" text-anchor="middle" stroke="#0a0a0a" stroke-width="0.13">0</text>
<line x1="224.00" y1="256.40" x2="224.00" y2="258.80" stroke-width="1.15"  stroke="#0a0a0a"/>
<text x="224.00" y="265.00" font-size="6.3" text-anchor="middle" stroke="#0a0a0a" stroke-width="0.13">5</text>
<line x1="247.70" y1="256.40" x2="247.70" y2="258.80" stroke-width="1.15"  stroke="#0a0a0a"/>
<text x="247.70" y="265.00" font-size="6.3" text-anchor="middle" stroke="#0a0a0a" stroke-width="0.13">10</text>
<line x1="271.40" y1="256.40" x2="271.40" y2="258.80" stroke-width="1.15"  stroke="#0a0a0a"/>
<text x="271.40" y="265.00" font-size="6.3" text-anchor="middle" stroke="#0a0a0a" stroke-width="0.13">15</text>
<line x1="295.10" y1="256.40" x2="295.10" y2="258.80" stroke-width="1.15"  stroke="#0a0a0a"/>
<text x="295.10" y="265.00" font-size="6.3" text-anchor="middle" stroke="#0a0a0a" stroke-width="0.13">20</text>
<line x1="318.80" y1="256.40" x2="318.80" y2="258.80" stroke-width="1.15"  stroke="#0a0a0a"/>
<text x="318.80" y="265.00" font-size="6.3" text-anchor="middle" stroke="#0a0a0a" stroke-width="0.13">25</text>
<line x1="197.10" y1="256.40" x2="200.30" y2="256.40" stroke-width="1.15"  stroke="#0a0a0a"/>
<text x="196.60" y="258.42" font-size="6.3" text-anchor="end" stroke="#0a0a0a" stroke-width="0.13">0.0</text>
<line x1="197.10" y1="240.57" x2="200.30" y2="240.57" stroke-width="1.15"  stroke="#0a0a0a"/>
<text x="196.60" y="242.59" font-size="6.3" text-anchor="end" stroke="#0a0a0a" stroke-width="0.13">0.5</text>
<line x1="197.10" y1="224.75" x2="200.30" y2="224.75" stroke-width="1.15"  stroke="#0a0a0a"/>
<text x="196.60" y="226.77" font-size="6.3" text-anchor="end" stroke="#0a0a0a" stroke-width="0.13">1.0</text>
<line x1="197.10" y1="208.92" x2="200.30" y2="208.92" stroke-width="1.15"  stroke="#0a0a0a"/>
<text x="196.60" y="210.94" font-size="6.3" text-anchor="end" stroke="#0a0a0a" stroke-width="0.13">1.5</text>
<line x1="197.10" y1="193.10" x2="200.30" y2="193.10" stroke-width="1.15"  stroke="#0a0a0a"/>
<text x="196.60" y="195.12" font-size="6.3" text-anchor="end" stroke="#0a0a0a" stroke-width="0.13">2.0</text>
<line x1="197.10" y1="177.27" x2="200.30" y2="177.27" stroke-width="1.15"  stroke="#0a0a0a"/>
<text x="196.60" y="179.29" font-size="6.3" text-anchor="end" stroke="#0a0a0a" stroke-width="0.13">2.5</text>
<g stroke="none">
<text x="225.00" y="274.00" font-size="6.6" text-anchor="start" stroke="#0a0a0a" stroke-width="0.13" textLength="68.10" lengthAdjust="spacingAndGlyphs">days after immunization</text>
<text x="173.50" y="260.00" font-size="6.5" text-anchor="start" stroke="#0a0a0a" stroke-width="0.13" textLength="88.80" lengthAdjust="spacingAndGlyphs" transform="rotate(-90 173.50 260.00)">Pneumococcal polysaccharide</text>
<text x="181.00" y="249.70" font-size="6.4" text-anchor="start" stroke="#0a0a0a" stroke-width="0.13" textLength="68.70" lengthAdjust="spacingAndGlyphs" transform="rotate(-90 181.00 249.70)">specific IgG (OD 405nm)</text>
<polygon points="274.67,178.15 275.32,179.96 277.24,180.02 275.72,181.19 276.26,183.03 274.67,181.95 273.09,183.03 273.63,181.19 272.11,180.02 274.03,179.96" fill="#0a0a0a" stroke="#0a0a0a" stroke-width="0.3"/>
<polygon points="280.23,178.15 280.87,179.96 282.79,180.02 281.27,181.19 281.81,183.03 280.23,181.95 278.64,183.03 279.18,181.19 277.66,180.02 279.58,179.96" fill="#0a0a0a" stroke="#0a0a0a" stroke-width="0.3"/>
<polygon points="285.77,178.15 286.42,179.96 288.34,180.02 286.82,181.19 287.36,183.03 285.77,181.95 284.19,183.03 284.73,181.19 283.21,180.02 285.13,179.96" fill="#0a0a0a" stroke="#0a0a0a" stroke-width="0.3"/>
<polygon points="291.33,178.15 291.97,179.96 293.89,180.02 292.37,181.19 292.91,183.03 291.33,181.95 289.74,183.03 290.28,181.19 288.76,180.02 290.68,179.96" fill="#0a0a0a" stroke="#0a0a0a" stroke-width="0.3"/>
</g>
<line x1="220.00" y1="185.90" x2="228.50" y2="185.90" stroke-width="0.8" />
<circle cx="224.20" cy="185.90" r="2.10" fill="#0a0a0a" stroke="none"/>
<text x="233.50" y="188.38" font-size="6.9" text-anchor="start" stroke="#0a0a0a" stroke-width="0.13" textLength="9.20" lengthAdjust="spacingAndGlyphs">WT</text>
<line x1="220.00" y1="195.20" x2="228.50" y2="195.20" stroke-width="0.8" />
<rect x="222.10" y="193.10" width="4.20" height="4.20" fill="#0a0a0a" stroke="none"/>
<text x="233.50" y="197.68" font-size="6.9" text-anchor="start" stroke="#0a0a0a" stroke-width="0.13" textLength="23.40" lengthAdjust="spacingAndGlyphs">B/WcKO</text>
<line x1="220.00" y1="204.70" x2="228.50" y2="204.70" stroke-width="0.8" />
<path d="M224.20 202.39 L226.51 206.46 L221.89 206.46 Z" fill="#0a0a0a" stroke="none"/>
<text x="233.50" y="207.18" font-size="6.9" text-anchor="start" stroke="#0a0a0a" stroke-width="0.13" textLength="14.90" lengthAdjust="spacingAndGlyphs">WKO</text>
<defs><clipPath id="up"><rect x="395" y="160" width="125" height="81.4"/></clipPath><clipPath id="lo"><rect x="395" y="246.5" width="125" height="14"/></clipPath></defs>
<path d="M402.20 252.70 L415.66 252.70 L422.39 204.95 L442.58 183.51 L489.69 179.22" fill="none" stroke-width="0.6" clip-path="url(#up)"/>
<path d="M402.20 252.70 L415.66 249.16 L422.39 225.32 L442.58 201.74 L489.69 200.13" fill="none" stroke-width="0.6" clip-path="url(#up)"/>
<path d="M402.20 252.70 L415.66 252.70 L422.39 227.46 L442.58 214.06 L489.69 248.63" fill="none" stroke-width="0.6" clip-path="url(#up)"/>
<line x1="402.20" y1="252.70" x2="415.66" y2="252.70" stroke-width="0.6" />
<line x1="402.20" y1="252.70" x2="415.66" y2="249.16" stroke-width="0.6" />
<line x1="402.20" y1="241.40" x2="498.50" y2="241.40" stroke-width="0.9" stroke-dasharray="1.3 1.2"/>
<line x1="422.39" y1="200.66" x2="422.39" y2="209.24" stroke-width="0.6" />
<line x1="420.09" y1="200.66" x2="424.69" y2="200.66" stroke-width="0.6" />
<line x1="420.09" y1="209.24" x2="424.69" y2="209.24" stroke-width="0.6" />
<line x1="442.58" y1="178.15" x2="442.58" y2="188.87" stroke-width="0.6" />
<line x1="440.28" y1="178.15" x2="444.88" y2="178.15" stroke-width="0.6" />
<line x1="440.28" y1="188.87" x2="444.88" y2="188.87" stroke-width="0.6" />
<line x1="489.69" y1="173.86" x2="489.69" y2="184.05" stroke-width="0.6" />
<line x1="487.39" y1="173.86" x2="491.99" y2="173.86" stroke-width="0.6" />
<line x1="487.39" y1="184.05" x2="491.99" y2="184.05" stroke-width="0.6" />
<line x1="422.39" y1="221.03" x2="422.39" y2="231.75" stroke-width="0.6" />
<line x1="420.09" y1="221.03" x2="424.69" y2="221.03" stroke-width="0.6" />
<line x1="420.09" y1="231.75" x2="424.69" y2="231.75" stroke-width="0.6" />
<line x1="442.58" y1="195.30" x2="442.58" y2="208.70" stroke-width="0.6" />
<line x1="440.28" y1="195.30" x2="444.88" y2="195.30" stroke-width="0.6" />
<line x1="440.28" y1="208.70" x2="444.88" y2="208.70" stroke-width="0.6" />
<line x1="489.69" y1="193.16" x2="489.69" y2="206.02" stroke-width="0.6" />
<line x1="487.39" y1="193.16" x2="491.99" y2="193.16" stroke-width="0.6" />
<line x1="487.39" y1="206.02" x2="491.99" y2="206.02" stroke-width="0.6" />
<line x1="442.58" y1="208.17" x2="442.58" y2="219.96" stroke-width="0.6" />
<line x1="440.28" y1="208.17" x2="444.88" y2="208.17" stroke-width="0.6" />
<line x1="440.28" y1="219.96" x2="444.88" y2="219.96" stroke-width="0.6" />
<line x1="402.20" y1="247.55" x2="402.20" y2="252.70" stroke-width="0.6" />
<line x1="399.90" y1="247.55" x2="404.50" y2="247.55" stroke-width="0.6" />
<line x1="399.90" y1="252.70" x2="404.50" y2="252.70" stroke-width="0.6" />
<line x1="489.69" y1="238.18" x2="489.69" y2="241.40" stroke-width="0.6" />
<line x1="487.39" y1="238.18" x2="491.99" y2="238.18" stroke-width="0.6" />
<line x1="487.39" y1="241.40" x2="491.99" y2="241.40" stroke-width="0.6" />
<path d="M422.39 225.15 L424.70 229.23 L420.08 229.23 Z" fill="#0a0a0a" stroke="none"/>
<path d="M442.58 211.75 L444.89 215.83 L440.27 215.83 Z" fill="#0a0a0a" stroke="none"/>
<path d="M489.69 246.32 L492.00 250.39 L487.38 250.39 Z" fill="#0a0a0a" stroke="none"/>
<circle cx="422.39" cy="204.95" r="2.40" fill="#0a0a0a" stroke="none"/>
<circle cx="442.58" cy="183.51" r="2.40" fill="#0a0a0a" stroke="none"/>
<circle cx="489.69" cy="179.22" r="2.40" fill="#0a0a0a" stroke="none"/>
<rect x="399.95" y="250.45" width="4.50" height="4.50" fill="#0a0a0a" stroke="none"/>
<rect x="413.41" y="246.91" width="4.50" height="4.50" fill="#0a0a0a" stroke="none"/>
<rect x="420.14" y="223.07" width="4.50" height="4.50" fill="#0a0a0a" stroke="none"/>
<rect x="440.33" y="199.49" width="4.50" height="4.50" fill="#0a0a0a" stroke="none"/>
<rect x="487.44" y="197.88" width="4.50" height="4.50" fill="#0a0a0a" stroke="none"/>
<rect x="413.41" y="250.45" width="4.50" height="4.50" fill="#0a0a0a" stroke="none"/>
<line x1="402.20" y1="166.36" x2="402.20" y2="241.40" stroke-width="0.85" />
<line x1="402.20" y1="246.60" x2="402.20" y2="256.50" stroke-width="0.85" />
<line x1="402.20" y1="256.50" x2="496.50" y2="256.50" stroke-width="0.85" />
<line x1="400.00" y1="241.40" x2="402.20" y2="241.40" stroke-width="0.85" />
<text x="399.80" y="244.40" font-size="6.8" text-anchor="end" stroke="#0a0a0a" stroke-width="0.13" font-weight="bold">1</text>
<line x1="400.00" y1="230.68" x2="402.20" y2="230.68" stroke-width="0.85" />
<text x="399.80" y="233.68" font-size="6.8" text-anchor="end" stroke="#0a0a0a" stroke-width="0.13" font-weight="bold">2</text>
<line x1="400.00" y1="219.96" x2="402.20" y2="219.96" stroke-width="0.85" />
<text x="399.80" y="222.96" font-size="6.8" text-anchor="end" stroke="#0a0a0a" stroke-width="0.13" font-weight="bold">3</text>
<line x1="400.00" y1="209.24" x2="402.20" y2="209.24" stroke-width="0.85" />
<text x="399.80" y="212.24" font-size="6.8" text-anchor="end" stroke="#0a0a0a" stroke-width="0.13" font-weight="bold">4</text>
<line x1="400.00" y1="198.52" x2="402.20" y2="198.52" stroke-width="0.85" />
<text x="399.80" y="201.52" font-size="6.8" text-anchor="end" stroke="#0a0a0a" stroke-width="0.13" font-weight="bold">5</text>
<line x1="400.00" y1="187.80" x2="402.20" y2="187.80" stroke-width="0.85" />
<text x="399.80" y="190.80" font-size="6.8" text-anchor="end" stroke="#0a0a0a" stroke-width="0.13" font-weight="bold">6</text>
<line x1="400.00" y1="177.08" x2="402.20" y2="177.08" stroke-width="0.85" />
<text x="399.80" y="180.08" font-size="6.8" text-anchor="end" stroke="#0a0a0a" stroke-width="0.13" font-weight="bold">7</text>
<line x1="400.00" y1="166.36" x2="402.20" y2="166.36" stroke-width="0.85" />
<text x="399.80" y="169.36" font-size="6.8" text-anchor="end" stroke="#0a0a0a" stroke-width="0.13" font-weight="bold">8</text>
<line x1="400.00" y1="252.70" x2="402.20" y2="252.70" stroke-width="0.85" />
<text x="397.80" y="254.80" font-size="5.8" text-anchor="end" stroke="#0a0a0a" stroke-width="0.13" font-weight="bold">&lt;1</text>
<line x1="402.20" y1="256.50" x2="402.20" y2="258.30" stroke-width="0.85" />
<text x="402.20" y="265.80" font-size="6.6" text-anchor="middle" stroke="#0a0a0a" stroke-width="0.13" font-weight="bold">0</text>
<line x1="415.66" y1="256.50" x2="415.66" y2="258.30" stroke-width="0.85" />
<text x="415.66" y="267.10" font-size="6.6" text-anchor="middle" stroke="#0a0a0a" stroke-width="0.13" font-weight="bold">2</text>
<line x1="422.39" y1="256.50" x2="422.39" y2="258.30" stroke-width="0.85" />
<text x="422.39" y="267.10" font-size="6.6" text-anchor="middle" stroke="#0a0a0a" stroke-width="0.13" font-weight="bold">3</text>
<line x1="435.85" y1="256.50" x2="435.85" y2="258.30" stroke-width="0.85" />
<text x="435.85" y="265.80" font-size="6.6" text-anchor="middle" stroke="#0a0a0a" stroke-width="0.13" font-weight="bold">5</text>
<line x1="469.50" y1="256.50" x2="469.50" y2="258.30" stroke-width="0.85" />
<text x="469.50" y="265.80" font-size="6.6" text-anchor="middle" stroke="#0a0a0a" stroke-width="0.13" font-weight="bold">10</text>
<line x1="489.69" y1="256.50" x2="489.69" y2="258.30" stroke-width="0.85" />
<text x="489.69" y="267.10" font-size="6.6" text-anchor="middle" stroke="#0a0a0a" stroke-width="0.13" font-weight="bold">13</text>
<g stroke="none">
<text x="431.20" y="278.10" font-size="7.4" text-anchor="start" stroke="#0a0a0a" stroke-width="0.13" textLength="36.10" lengthAdjust="spacingAndGlyphs">Time (days)</text>
<text x="379.00" y="243.20" font-size="7.1" text-anchor="start" stroke="#0a0a0a" stroke-width="0.13" textLength="64.00" lengthAdjust="spacingAndGlyphs" transform="rotate(-90 379.00 243.20)">Neutralizing Total Ig</text>
<text x="388.0" y="234.9" font-size="7.1" textLength="47.7" lengthAdjust="spacingAndGlyphs" transform="rotate(-90 388.0 234.9)" stroke="#0a0a0a" stroke-width="0.13">Titer (log<tspan font-size="4.6" dy="1.4">2</tspan><tspan dy="-1.4">) x 40</tspan></text>
<polygon points="419.05,181.45 419.70,183.26 421.62,183.32 420.10,184.49 420.64,186.33 419.05,185.25 417.46,186.33 418.00,184.49 416.48,183.32 418.40,183.26" fill="#0a0a0a" stroke="#0a0a0a" stroke-width="0.3"/>
<polygon points="424.55,181.45 425.20,183.26 427.12,183.32 425.60,184.49 426.14,186.33 424.55,185.25 422.96,186.33 423.50,184.49 421.98,183.32 423.90,183.26" fill="#0a0a0a" stroke="#0a0a0a" stroke-width="0.3"/>
</g>
<line x1="475.90" y1="213.80" x2="486.30" y2="213.80" stroke-width="0.8" />
<circle cx="481.00" cy="213.80" r="2.40" fill="#0a0a0a" stroke="none"/>
<text x="491.60" y="216.46" font-size="7.4" text-anchor="start" stroke="#0a0a0a" stroke-width="0.13" textLength="10.40" lengthAdjust="spacingAndGlyphs">WT</text>
<line x1="475.90" y1="222.30" x2="486.30" y2="222.30" stroke-width="0.8" />
<path d="M481.00 219.66 L483.64 224.32 L478.36 224.32 Z" fill="#0a0a0a" stroke="none"/>
<text x="491.60" y="224.96" font-size="7.4" text-anchor="start" stroke="#0a0a0a" stroke-width="0.13" textLength="16.50" lengthAdjust="spacingAndGlyphs">WKO</text>
<line x1="475.90" y1="231.60" x2="486.30" y2="231.60" stroke-width="0.8" />
<rect x="478.60" y="229.20" width="4.80" height="4.80" fill="#0a0a0a" stroke="none"/>
<text x="491.60" y="234.26" font-size="7.4" text-anchor="start" stroke="#0a0a0a" stroke-width="0.13" textLength="26.70" lengthAdjust="spacingAndGlyphs">B/WcKO</text>
</svg></body></html>
